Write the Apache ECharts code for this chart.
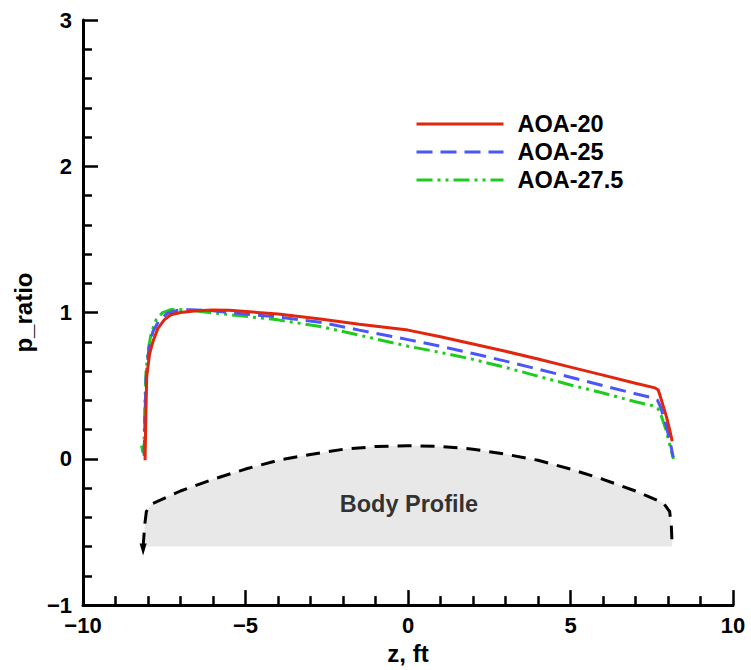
<!DOCTYPE html>
<html>
<head>
<meta charset="utf-8">
<script src="https://cdn.jsdelivr.net/npm/echarts@6/dist/echarts.min.js"></script>
<style>
  html, body { margin: 0; padding: 0; background: #fff; overflow: hidden; }
  #chart { width: 751px; height: 670px; }
</style>
</head>
<body>
<div id="chart"></div>
<script>
// Surface pressure ratio along z for three angles of attack, [z (ft), p_ratio]
const aoa20 = [
  [-8.09, -0.01], [-8.07, 0.25], [-8.04, 0.56], [-7.95, 0.72], [-7.85, 0.80],
  [-7.7, 0.89], [-7.5, 0.95], [-7.3, 0.985], [-7.0, 1.0], [-6.5, 1.013],
  [-6.0, 1.018], [-5.5, 1.016], [-4.0, 0.99], [-2.7, 0.956], [-1.5, 0.92],
  [0, 0.88], [1, 0.835], [2, 0.785], [3, 0.735], [4, 0.682], [5, 0.627],
  [6, 0.572], [7, 0.517], [7.6, 0.485], [7.7, 0.47], [7.8, 0.40],
  [7.95, 0.29], [8.05, 0.2], [8.13, 0.12]
];
const aoa25 = [
  [-8.12, 0.02], [-8.09, 0.3], [-8.06, 0.55], [-7.98, 0.74], [-7.85, 0.87],
  [-7.65, 0.95], [-7.4, 0.995], [-7.1, 1.015], [-6.7, 1.02], [-6.0, 1.013],
  [-5.5, 1.0], [-4.0, 0.97], [-2.7, 0.934], [-1.5, 0.88], [0, 0.815],
  [1, 0.77], [2, 0.72], [3, 0.668], [4, 0.613], [5, 0.558], [6, 0.50],
  [7, 0.445], [7.5, 0.418], [7.68, 0.40], [7.78, 0.35], [7.95, 0.22],
  [8.08, 0.1], [8.16, 0.01]
];
const aoa275 = [
  [-8.2, 0.09], [-8.15, 0.04], [-8.12, 0.1], [-8.1, 0.35], [-8.06, 0.6],
  [-8.0, 0.74], [-7.9, 0.86], [-7.75, 0.95], [-7.55, 1.0], [-7.3, 1.02],
  [-7.0, 1.02], [-6.5, 1.01], [-5.5, 0.986], [-4.0, 0.95], [-2.7, 0.905],
  [-1.5, 0.845], [0, 0.77], [1, 0.727], [2, 0.68], [3, 0.625], [4, 0.565],
  [5, 0.505], [6, 0.45], [7, 0.39], [7.55, 0.362], [7.7, 0.34], [7.8, 0.29],
  [7.95, 0.19], [8.07, 0.08], [8.17, 0.0]
];
// Body cross-section outline, [z (ft), height]
const bodyProfile = [
  [-8.15, -0.60], [-8.1, -0.45], [-8.05, -0.36], [-7.9, -0.31], [-7.0, -0.22],
  [-6.0, -0.14], [-5.0, -0.07], [-4.0, -0.01], [-3.0, 0.03], [-2.0, 0.065],
  [-1.0, 0.084], [0, 0.09], [1.0, 0.085], [2.0, 0.066], [3.0, 0.032],
  [4.0, -0.01], [5.0, -0.07], [6.0, -0.14], [7.0, -0.22], [7.85, -0.30],
  [8.05, -0.36], [8.1, -0.45], [8.12, -0.55]
];
const bodyBase = -0.6;
const seriesNames = ['AOA-20', 'AOA-25', 'AOA-27.5'];
const bodyLabel = 'Body Profile';
const bodyLabelAt = [0.03, -0.31];

const FONT = '"Liberation Sans", Arial, Helvetica, sans-serif';
const minus = v => String(v).replace('-', '\u2212');

const chart = echarts.init(document.getElementById('chart'), null,
  { renderer: 'svg', width: 751, height: 670 });

const axisCommon = {
  axisLine: { show: true, onZero: false, lineStyle: { color: '#000', width: 3 } },
  axisTick: { show: true, inside: true, length: 15, lineStyle: { color: '#000', width: 2.5 } },
  minorTick: { show: true, splitNumber: 5, length: 9, lineStyle: { color: '#000', width: 2.5 } },
  splitLine: { show: false },
  axisLabel: { color: '#000', fontFamily: FONT, fontWeight: 'bold', fontSize: 22, formatter: minus },
  nameTextStyle: { color: '#000', fontFamily: FONT, fontWeight: 'bold', fontSize: 24 }
};

const bodyLineData = bodyProfile.map((p, i) => i === 0
  ? { value: p, symbol: 'triangle', symbolSize: [7, 12], symbolRotate: 180, symbolOffset: [0, 3] }
  : p);

chart.setOption({
  animation: false,
  backgroundColor: '#fff',
  grid: { left: 83, right: 18, top: 20, bottom: 59, containLabel: false },
  xAxis: Object.assign({}, axisCommon, {
    type: 'value', min: -10, max: 10, interval: 5,
    name: 'z, ft', nameLocation: 'middle', nameGap: 34,
    axisLabel: Object.assign({}, axisCommon.axisLabel, { margin: 9 })
  }),
  yAxis: Object.assign({}, axisCommon, {
    type: 'value', min: -1, max: 3, interval: 1,
    name: 'p_ratio', nameLocation: 'middle', nameGap: 48,
    axisLabel: Object.assign({}, axisCommon.axisLabel, { margin: 11 })
  }),
  legend: {
    orient: 'vertical', left: 410, top: 107,
    itemWidth: 87, itemHeight: 14, itemGap: 4,
    itemStyle: { opacity: 0, borderWidth: 0 },
    lineStyle: { width: 3 },
    data: seriesNames,
    textStyle: { color: '#000', fontFamily: FONT, fontWeight: 'bold', fontSize: 23.5, lineHeight: 24, padding: [0, 0, 0, 9] }
  },
  series: [
    {
      name: 'bodyFill', type: 'line', data: bodyProfile, symbol: 'none', z: 1,
      lineStyle: { width: 0, opacity: 0 },
      areaStyle: { color: '#e8e8e8', opacity: 1, origin: bodyBase },
      silent: true
    },
    {
      name: 'bodyLine', type: 'line', data: bodyLineData, symbol: 'none', z: 2,
      itemStyle: { color: '#000' },
      lineStyle: { color: '#000', width: 3, type: [14, 9] },
      silent: true
    },
    {
      name: 'bodyLabel', type: 'scatter', data: [bodyLabelAt], symbolSize: 0, z: 3,
      label: { show: true, position: 'inside', formatter: bodyLabel, color: '#000',
               fontFamily: FONT, fontWeight: 'bold', fontSize: 23.5 },
      silent: true
    },
    {
      name: seriesNames[2], type: 'line', data: aoa275, symbol: 'none', z: 4,
      itemStyle: { color: '#1ecb1e' },
      lineStyle: { color: '#1ecb1e', width: 3, type: [16, 5, 3, 5, 3, 5] }
    },
    {
      name: seriesNames[1], type: 'line', data: aoa25, symbol: 'none', z: 5,
      itemStyle: { color: '#4a56f5' },
      lineStyle: { color: '#4a56f5', width: 3, type: [16, 8] }
    },
    {
      name: seriesNames[0], type: 'line', data: aoa20, symbol: 'none', z: 6,
      itemStyle: { color: '#e0260f' },
      lineStyle: { color: '#e0260f', width: 3, type: 'solid' }
    }
  ]
});
</script>
</body>
</html>
